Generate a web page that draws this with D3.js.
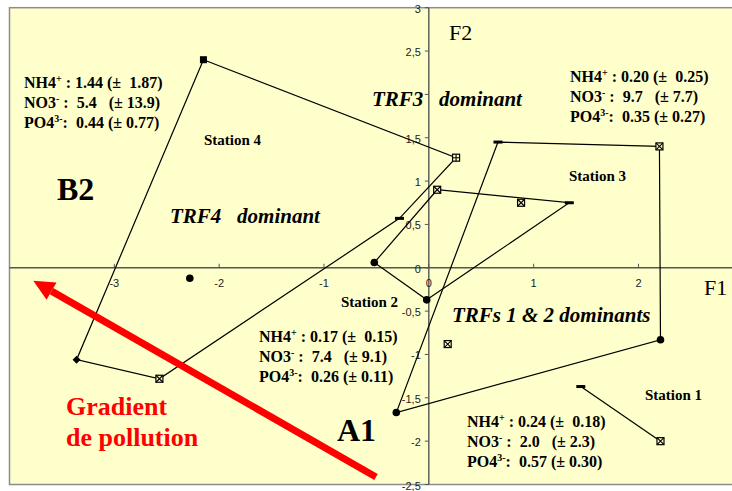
<!DOCTYPE html>
<html>
<head>
<meta charset="utf-8">
<script src="https://cdn.jsdelivr.net/npm/d3@7"></script>
<style>
  html, body { margin: 0; padding: 0; background: #ffffff; }
  svg text { white-space: pre; }
</style>
</head>
<body>
<svg id="chart" width="732" height="491"></svg>
<script>
// ---- Factorial plane coordinates (F1, F2) ----
// Station 4 envelope (closed)
const s4F1 = [-2.15, 0.26, -0.28, -2.57, -3.36, -2.15];
const s4F2 = [2.40, 1.27, 0.57, -1.28, -1.06, 2.40];
const s4Sym = ["square", "squarePlus", "dash", "squareCross", "diamond", null];

// Station 2 envelope (closed)
const s2F1 = [-0.52, 0.08, 1.34, -0.02, -0.52];
const s2F2 = [0.06, 0.90, 0.75, -0.37, 0.06];
const s2Sym = ["circle", "squareCross", "dash", "circle", null];

// Station 3 envelope (closed)
const s3F1 = [0.66, 2.20, 2.21, -0.31, 0.66];
const s3F2 = [1.45, 1.40, -0.83, -1.67, 1.45];
const s3Sym = ["dash", "squareCross", "circle", "circle", null];

// Station 1 segment
const s1F1 = [1.45, 2.21];
const s1F2 = [-1.37, -2.00];
const s1Sym = ["dash", "squareCross"];

// Isolated samples
const ptF1 = [-2.28, 0.18, 0.88];
const ptF2 = [-0.12, -0.88, 0.75];
const ptSym = ["circle", "squareCross", "squareCross"];

// Axis ticks
const xTicks = [-3, -2, -1, 0, 1, 2];
const yTicks = [-2.5, -2, -1.5, -1, -0.5, 0, 0.5, 1, 1.5, 2, 2.5, 3];

// Nutrient means and standard deviations per station (4, 3, 2, 1)
const nh4Mean = ["1.44", "0.20", "0.17", "0.24"];
const nh4Sd   = ["1.87", "0.25", "0.15", "0.18"];
const no3Mean = ["5.4", "9.7", "7.4", "2.0"];
const no3Sd   = ["13.9", "7.7", "9.1", "2.3"];
const po4Mean = ["0.44", "0.35", "0.26", "0.57"];
const po4Sd   = ["0.77", "0.27", "0.11", "0.30"];

const svg = d3.select("#chart");
const W = 732, H = 491;
const bg = "#FFFFCC";

const x = d3.scaleLinear().domain([-4, 3]).range([9.5, 743.3]);
const y = d3.scaleLinear().domain([-2.5, 3]).range([484.5, 7.7]);

// Plot area
svg.append("rect")
  .attr("x", x(-4)).attr("y", y(3))
  .attr("width", x(3) - x(-4)).attr("height", y(-2.5) - y(3))
  .attr("fill", bg).attr("stroke", "#8c8c8c").attr("stroke-width", 1.5);

// Axes through the origin
const axisColor = "#555";
svg.append("line")
  .attr("x1", x(-4)).attr("x2", W).attr("y1", y(0)).attr("y2", y(0))
  .attr("stroke", axisColor).attr("stroke-width", 1.4);
svg.append("line")
  .attr("x1", x(0)).attr("x2", x(0)).attr("y1", y(3)).attr("y2", y(-2.5))
  .attr("stroke", axisColor).attr("stroke-width", 1.4);

const fmt = d => String(d).replace(".", ",");

// X ticks and labels
const xt = svg.append("g");
xt.selectAll("line").data(xTicks).join("line")
  .attr("x1", d => x(d)).attr("x2", d => x(d))
  .attr("y1", y(0) - 4).attr("y2", y(0))
  .attr("stroke", axisColor).attr("stroke-width", 1);
xt.selectAll("text").data(xTicks).join("text")
  .attr("x", d => x(d)).attr("y", y(0) + 19)
  .attr("text-anchor", "middle")
  .attr("font-family", "Liberation Sans, Arial, sans-serif")
  .attr("font-size", 11).attr("fill", "#222")
  .text(fmt);

// Y ticks and labels (the label at 2 sits under the TRF3 caption, so it is left out)
const yt = svg.append("g");
yt.selectAll("line").data(yTicks).join("line")
  .attr("x1", x(0) - 4).attr("x2", x(0))
  .attr("y1", d => y(d)).attr("y2", d => y(d))
  .attr("stroke", axisColor).attr("stroke-width", 1);
yt.selectAll("text").data(yTicks.filter(d => d !== 2)).join("text")
  .attr("x", x(0) - 8).attr("y", d => y(d) + 5)
  .attr("text-anchor", "end")
  .attr("font-family", "Liberation Sans, Arial, sans-serif")
  .attr("font-size", 11).attr("fill", "#222")
  .text(fmt);

// Envelopes
const line = d3.line().x(d => x(d[0])).y(d => y(d[1]));
const zip = (a, b, s) => a.map((v, i) => [v, b[i], s[i]]);
const groups = [
  zip(s4F1, s4F2, s4Sym),
  zip(s2F1, s2F2, s2Sym),
  zip(s3F1, s3F2, s3Sym),
  zip(s1F1, s1F2, s1Sym)
];
svg.append("g").selectAll("path").data(groups).join("path")
  .attr("d", line)
  .attr("fill", "none").attr("stroke", "#000").attr("stroke-width", 1.2);

// Markers
function drawMarker(g, kind, cx, cy) {
  if (!kind) return;
  if (kind === "square") {
    g.append("rect").attr("x", cx - 3.5).attr("y", cy - 3.5).attr("width", 7).attr("height", 7).attr("fill", "#000");
  } else if (kind === "squarePlus" || kind === "squareCross") {
    g.append("rect").attr("x", cx - 3.5).attr("y", cy - 3.5).attr("width", 7).attr("height", 7)
      .attr("fill", bg).attr("stroke", "#000").attr("stroke-width", 1.2);
    const p = kind === "squarePlus"
      ? `M${cx - 3.5},${cy}H${cx + 3.5}M${cx},${cy - 3.5}V${cy + 3.5}`
      : `M${cx - 3.5},${cy - 3.5}L${cx + 3.5},${cy + 3.5}M${cx + 3.5},${cy - 3.5}L${cx - 3.5},${cy + 3.5}`;
    g.append("path").attr("d", p).attr("stroke", "#000").attr("stroke-width", 1.1).attr("fill", "none");
  } else if (kind === "dash") {
    g.append("rect").attr("x", cx - 4.5).attr("y", cy - 1.5).attr("width", 9).attr("height", 3).attr("fill", "#000");
  } else if (kind === "diamond") {
    g.append("path").attr("d", `M${cx},${cy - 4}L${cx + 4},${cy}L${cx},${cy + 4}L${cx - 4},${cy}Z`).attr("fill", "#000");
  } else if (kind === "circle") {
    g.append("circle").attr("cx", cx).attr("cy", cy).attr("r", 3.8).attr("fill", "#000");
  }
}
const mk = svg.append("g");
groups.concat([zip(ptF1, ptF2, ptSym)]).forEach(gr => {
  gr.forEach(d => drawMarker(mk, d[2], x(d[0]), y(d[1])));
});

// Labels
const serif = "Liberation Serif, Times New Roman, serif";
function label(txt, px, py, size, opts = {}) {
  return svg.append("text")
    .attr("x", px).attr("y", py)
    .attr("font-family", serif).attr("font-size", size)
    .attr("font-weight", opts.weight || "normal")
    .attr("font-style", opts.style || "normal")
    .attr("fill", opts.fill || "#000")
    .text(txt);
}
label("F2", 449, 40, 22);
label("F1", 704, 295, 22);
label("B2", 57, 200, 32, { weight: "bold" });
label("A1", 337, 441, 32, { weight: "bold" });

label("TRF4   dominant", 170, 223, 21, { weight: "bold", style: "italic" });
label("TRF3   dominant", 372, 106, 21, { weight: "bold", style: "italic" });
label("TRFs 1 & 2 dominants", 452, 322, 21, { weight: "bold", style: "italic" });

label("Station 4", 204, 145, 15, { weight: "bold" });
label("Station 3", 569, 181, 15, { weight: "bold" });
label("Station 2", 341, 307, 15, { weight: "bold" });
label("Station 1", 645, 400, 15, { weight: "bold" });

// Nutrient blocks: station index -> anchor
const blockX = [24, 570, 259, 467];
const blockY = [88, 82, 342, 427];
function ionLine(px, py, base, sup, rest) {
  const t = svg.append("text")
    .attr("x", px).attr("y", py)
    .attr("font-family", serif).attr("font-size", 16)
    .attr("font-weight", "bold").attr("fill", "#000");
  t.append("tspan").text(base);
  t.append("tspan").attr("font-size", 10).attr("dy", -6).text(sup);
  t.append("tspan").attr("dy", 6).text(rest);
}
for (let i = 0; i < 4; i++) {
  ionLine(blockX[i], blockY[i], "NH4", "+", ` : ${nh4Mean[i]} (±  ${nh4Sd[i]})`);
  ionLine(blockX[i], blockY[i] + 20, "NO3", "-", ` :  ${no3Mean[i]}   (± ${no3Sd[i]})`);
  ionLine(blockX[i], blockY[i] + 40, "PO4", "3-", `:  ${po4Mean[i]} (± ${po4Sd[i]})`);
}

// Pollution gradient arrow
const tail = [376, 477], tip = [33.3, 280.7];
const dx = tail[0] - tip[0], dy = tail[1] - tip[1];
const len = Math.hypot(dx, dy), ux = dx / len, uy = dy / len;
const headL = 21, headW = 10;
const bx = tip[0] + ux * headL, by = tip[1] + uy * headL;
svg.append("line")
  .attr("x1", tail[0]).attr("y1", tail[1]).attr("x2", bx).attr("y2", by)
  .attr("stroke", "#ff0000").attr("stroke-width", 7);
svg.append("path")
  .attr("d", `M${tip[0]},${tip[1]}L${bx - uy * headW},${by + ux * headW}L${bx + uy * headW},${by - ux * headW}Z`)
  .attr("fill", "#ff0000");

label("Gradient", 66, 415, 26, { weight: "bold", fill: "#ff0000" });
label("de pollution", 66, 446, 26, { weight: "bold", fill: "#ff0000" });
</script>
</body>
</html>
